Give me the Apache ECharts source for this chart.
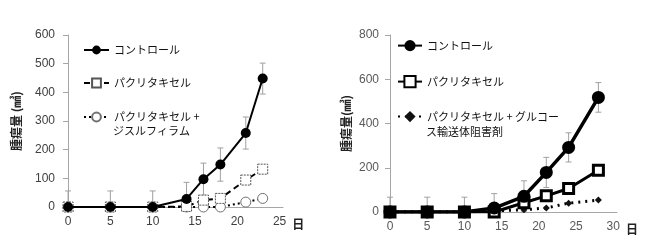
<!DOCTYPE html>
<html><head><meta charset="utf-8">
<script src="https://cdn.jsdelivr.net/npm/echarts@6/dist/echarts.min.js"></script>
<style>html,body{margin:0;padding:0;background:#fff}#c{width:664px;height:244px}</style>
</head><body><div id="c"></div>
<script>
// ---- Left chart data ----
const daysL = [0, 5, 10, 14, 16, 18, 21, 23];
const ctrlL = [0, 0, 0, 28, 97, 148, 258, 448];
const ctrlErrL = [56, 56, 56, 58, 56, 58, 56, 54];
const pacL = [0, 0, 0, 2, 24, 30, 94, 132];
const pacErrL = [0, 0, 0, 0, 15, 15, 12, 12];
const disL = [0, 0, 0, 0, 0, 0, 17, 30];
const xTicksL = [0, 5, 10, 15, 20, 25];
// ---- Right chart data ----
const daysR = [0, 5, 10, 14, 18, 21, 24, 28];
const ctrlR = [0, 0, 0, 18, 71, 179, 292, 518];
const ctrlErrR = [67, 67, 67, 65, 70, 68, 66, 67];
const pacR = [0, 0, 0, 0, 42, 73, 106, 189];
const pacErrR = [0, 0, 0, 0, 15, 15, 20, 22];
const gluR = [0, 0, 0, 5, 10, 18, 40, 54];
const xTicksR = [0, 5, 10, 15, 20, 25, 30];
// ---- Labels ----
const legendNames = {
  Lc: 'コントロール', Lp: 'パクリタキセル', Ld: 'パクリタキセル +',
  Rc: 'コントロール', Rp: 'パクリタキセル', Rg: 'パクリタキセル + グルコー'
};
const legend2L = 'ジスルフィラム';
const legend2R = 'ス輸送体阻害剤';
const yNameL = '腫瘍量 (㎣)';
const yNameR = '腫瘍量(㎣)';
const xName = '日';

const FONT = "'Liberation Sans', 'Noto Sans CJK JP', sans-serif";
const JFONT = "'Noto Sans CJK JP', sans-serif";

function pairs(xs, ys) { return xs.map((x, i) => [x, ys[i]]); }
function triples(xs, ys, es) { return xs.map((x, i) => [x, ys[i], es[i]]); }

function errRender(params, api) {
  const x = api.value(0), y = api.value(1), e = api.value(2);
  if (!e) return null;
  const lowV = Math.max(0, y - e);
  const hi = api.coord([x, y + e]);
  const lo = api.coord([x, lowV]);
  const w = 3;
  const st = { stroke: '#a0a0a0', lineWidth: 1 };
  const ch = [
    { type: 'line', shape: { x1: hi[0], y1: hi[1], x2: lo[0], y2: lo[1] }, style: st },
    { type: 'line', shape: { x1: hi[0] - w, y1: hi[1], x2: hi[0] + w, y2: hi[1] }, style: st }
  ];
  if (y - e > 0) ch.push({ type: 'line', shape: { x1: lo[0] - w, y1: lo[1], x2: lo[0] + w, y2: lo[1] }, style: st });
  return { type: 'group', children: ch };
}

function xAxisCfg(idx, min, max, ticks, color) {
  return {
    type: 'value', gridIndex: idx, min: min, max: max,
    axisLine: { show: true, onZero: false, lineStyle: { color: '#a6a6a6', width: 1 } },
    axisTick: { show: false }, splitLine: { show: false },
    axisLabel: { customValues: ticks, color: color, fontSize: 12, fontFamily: FONT, margin: 9 },
    name: xName, nameLocation: 'end', nameGap: 9,
    nameTextStyle: { fontFamily: JFONT, fontSize: 12, fontWeight: 'bold', color: '#222', verticalAlign: 'top', padding: [11, 0, 0, 0] }
  };
}
function yAxisCfg(idx, max, interval, name, gap, color) {
  return {
    type: 'value', gridIndex: idx, min: 0, max: max, interval: interval,
    axisLine: { show: true, lineStyle: { color: '#a6a6a6', width: 1 } },
    axisTick: { show: true, length: 5, lineStyle: { color: '#a6a6a6' } },
    splitLine: { show: false },
    axisLabel: { color: color, fontSize: 12, fontFamily: FONT, margin: 8 },
    name: name, nameLocation: 'middle', nameGap: gap, nameRotate: 90,
    nameTextStyle: { fontFamily: JFONT, fontSize: 12, fontWeight: 'bold', color: '#222' }
  };
}
function legendCfg(name, left, centerY, itemW, itemH) {
  return {
    data: [name], left: left, top: centerY - itemH / 2, orient: 'vertical', padding: 0,
    itemWidth: itemW, itemHeight: itemH, selectedMode: false,
    formatter: n => legendNames[n],
    textStyle: { fontFamily: JFONT, fontSize: 11, color: '#111' }
  };
}

const chart = echarts.init(document.getElementById('c'), null, { renderer: 'canvas' });
chart.setOption({
  animation: false,
  backgroundColor: '#fff',
  grid: [
    { left: 63, right: 381, top: 35, bottom: 37 },
    { left: 387, right: 47, top: 35, bottom: 32 }
  ],
  xAxis: [xAxisCfg(0, -0.6, 25.4, xTicksL, '#404040'), xAxisCfg(1, -0.4, 30.5, xTicksR, '#595959')],
  yAxis: [yAxisCfg(0, 600, 100, yNameL, 41, '#404040'), yAxisCfg(1, 800, 200, yNameR, 35, '#595959')],
  legend: [
    legendCfg('Lc', 83, 50, 25, 11),
    legendCfg('Lp', 83, 83, 25, 11),
    legendCfg('Ld', 83, 117, 25, 11),
    legendCfg('Rc', 397, 47, 24, 14),
    legendCfg('Rp', 397, 82, 24, 14),
    legendCfg('Rg', 397, 118, 24, 14)
  ],
  graphic: [
    { type: 'text', left: 113, top: 125, style: { text: legend2L, font: "11px 'Noto Sans CJK JP'", fill: '#111' } },
    { type: 'text', left: 426, top: 126, style: { text: legend2R, font: "11px 'Noto Sans CJK JP'", fill: '#111' } }
  ],
  series: [
    // error bars
    { type: 'custom', xAxisIndex: 0, yAxisIndex: 0, renderItem: errRender, data: triples(daysL, ctrlL, ctrlErrL), encode: { x: 0, y: 1 }, z: 1, silent: true },
    { type: 'custom', xAxisIndex: 0, yAxisIndex: 0, renderItem: errRender, data: triples(daysL, pacL, pacErrL), encode: { x: 0, y: 1 }, z: 1, silent: true },
    { type: 'custom', xAxisIndex: 1, yAxisIndex: 1, renderItem: errRender, data: triples(daysR, ctrlR, ctrlErrR), encode: { x: 0, y: 1 }, z: 1, silent: true },
    { type: 'custom', xAxisIndex: 1, yAxisIndex: 1, renderItem: errRender, data: triples(daysR, pacR, pacErrR), encode: { x: 0, y: 1 }, z: 1, silent: true },
    // left lines
    { name: 'Ld', type: 'line', xAxisIndex: 0, yAxisIndex: 0, data: pairs(daysL, disL), z: 3,
      symbol: 'circle', symbolSize: 10, showAllSymbol: true,
      lineStyle: { color: '#000', width: 2, type: [2, 3] },
      itemStyle: { color: '#fff', borderColor: '#707070', borderWidth: 1 } },
    { name: 'Lp', type: 'line', xAxisIndex: 0, yAxisIndex: 0, data: pairs(daysL, pacL), z: 4,
      symbol: 'rect', symbolSize: 10,
      lineStyle: { color: '#000', width: 2, type: [6, 4] },
      itemStyle: { color: '#fff', borderColor: '#555', borderWidth: 1, borderType: [2, 1] } },
    { name: 'Lc', type: 'line', xAxisIndex: 0, yAxisIndex: 0, data: pairs(daysL, ctrlL), z: 5,
      symbol: 'circle', symbolSize: 10,
      lineStyle: { color: '#000', width: 2 },
      itemStyle: { color: '#000', borderColor: '#000', borderWidth: 0 } },
    // right lines
    { name: 'Rg', type: 'line', xAxisIndex: 1, yAxisIndex: 1, data: pairs(daysR, gluR), z: 3,
      symbol: 'diamond', symbolSize: 7,
      lineStyle: { color: '#000', width: 3, type: [2, 5] },
      itemStyle: { color: '#111', borderColor: '#111', borderWidth: 0 } },
    { name: 'Rp', type: 'line', xAxisIndex: 1, yAxisIndex: 1, data: pairs(daysR, pacR), z: 4,
      symbol: 'rect', symbolSize: 10,
      lineStyle: { color: '#000', width: 3 },
      itemStyle: { color: '#fff', borderColor: '#000', borderWidth: 3 } },
    { name: 'Rc', type: 'line', xAxisIndex: 1, yAxisIndex: 1, data: pairs(daysR, ctrlR), z: 5,
      symbol: 'circle', symbolSize: 13,
      lineStyle: { color: '#000', width: 3.5 },
      itemStyle: { color: '#000', borderColor: '#000', borderWidth: 0 } }
  ]
});
</script>
</body></html>
